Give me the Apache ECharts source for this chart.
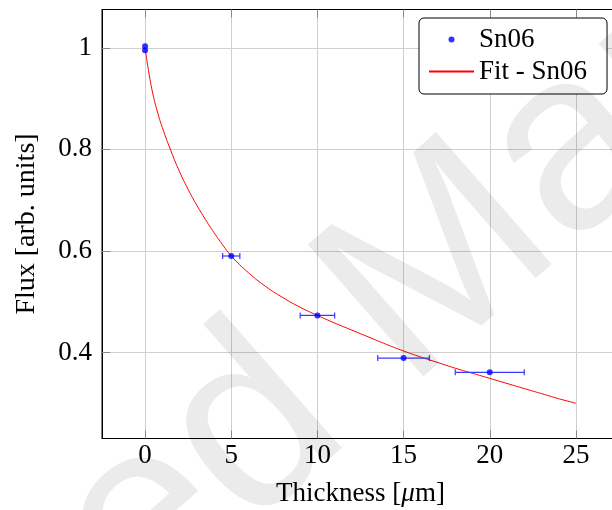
<!DOCTYPE html>
<html>
<head>
<meta charset="utf-8">
<script src="https://cdn.jsdelivr.net/npm/echarts@6/dist/echarts.min.js"></script>
<style>html,body{margin:0;padding:0;background:#fff}#c{width:612px;height:510px}</style>
</head>
<body>
<div id="c"></div>
<script>
// Measured data (Sn06)
var thickness = [0, 0, 5, 10, 15, 20];
var flux = [1.003, 0.995, 0.590, 0.473, 0.389, 0.361];
var thicknessErr = [0, 0, 0.5, 1.0, 1.5, 2.0];
// Fit curve
var fitX = [0, 0.25, 0.5, 0.75, 1, 1.5, 2, 2.5, 3, 3.5, 4, 4.5, 5, 6, 7, 8, 9, 10, 11, 12, 13, 14, 15, 16, 17, 18, 19, 20, 21, 22, 23, 24, 25];
var fitY = [1.0, 0.945, 0.902, 0.870, 0.843, 0.797, 0.756, 0.721, 0.690, 0.662, 0.636, 0.612, 0.590, 0.557, 0.530, 0.508, 0.489, 0.473, 0.458, 0.444, 0.430, 0.416, 0.403, 0.391, 0.380, 0.369, 0.359, 0.349, 0.339, 0.329, 0.319, 0.309, 0.300];
var xTicks = [0, 5, 10, 15, 20, 25];
var yTicks = [0.4, 0.6, 0.8, 1.0];
var seriesName = 'Sn06';
var fitName = 'Fit - Sn06';
var watermarkText = 'Accepted Manuscript';

var FONT = 'Liberation Serif';
var FS = 27;
var pts = thickness.map(function (x, i) { return [x, flux[i]]; });
var errData = thickness.map(function (x, i) { return [x, flux[i], thicknessErr[i]]; });
var fitData = fitX.map(function (x, i) { return [x, fitY[i]]; });

var chart = echarts.init(document.getElementById('c'));
chart.setOption({
  animation: false,
  backgroundColor: '#fff',
  grid: { left: 102, top: 9.5, width: 517, height: 429, containLabel: false, outerBoundsMode: 'none',
    show: true, borderColor: '#000', borderWidth: 1, backgroundColor: 'transparent' },
  legend: {
    left: 419, top: 18, orient: 'vertical',
    backgroundColor: '#fff', borderColor: '#000', borderWidth: 1, borderRadius: 5,
    padding: [8, 20, 9, 9], itemGap: 5, itemWidth: 45, itemHeight: 6,
    textStyle: { fontFamily: FONT, fontSize: FS, color: '#000', lineHeight: 27 },
    data: [{ name: seriesName }, { name: fitName, itemStyle: { opacity: 0 } }]
  },
  xAxis: [{
    type: 'value', min: -2.5, max: 27.5, position: 'bottom',
    name: 'Thickness [{i|μ}m]', nameLocation: 'middle', nameGap: 42,
    nameTextStyle: { fontFamily: FONT, fontSize: FS, color: '#000', rich: { i: { fontFamily: FONT, fontStyle: 'italic', fontSize: FS } } },
    axisLine: { show: true, onZero: false, lineStyle: { color: '#000', width: 1 } },
    axisTick: { show: true, inside: true, length: 8, customValues: xTicks, lineStyle: { color: '#888' } },
    axisLabel: { customValues: xTicks, margin: 4, fontFamily: FONT, fontSize: FS, color: '#000' },
    splitLine: { show: true, lineStyle: { color: '#cfcfcf', width: 1 } }
  }, {
    type: 'value', min: -2.5, max: 27.5, position: 'top',
    axisLine: { show: true, onZero: false, lineStyle: { color: '#000', width: 1 } },
    axisTick: { show: true, inside: true, length: 8, customValues: xTicks, lineStyle: { color: '#888' } },
    axisLabel: { show: false },
    splitLine: { show: false }
  }],
  yAxis: {
    type: 'value', min: 0.2306, max: 1.0754,
    name: 'Flux [arb. units]', nameLocation: 'middle', nameGap: 61,
    nameTextStyle: { fontFamily: FONT, fontSize: 28, color: '#000' },
    axisLine: { show: true, onZero: false, lineStyle: { color: '#000', width: 1 } },
    axisTick: { show: true, inside: true, length: 8, customValues: yTicks, lineStyle: { color: '#888' } },
    axisLabel: { customValues: yTicks, margin: 10, fontFamily: FONT, fontSize: FS, color: '#000',
      formatter: function (v) { return Math.abs(v - 1) < 1e-9 ? '1' : v.toFixed(1); } },
    splitLine: { show: true, lineStyle: { color: '#cfcfcf', width: 1 } }
  },
  graphic: [{
    type: 'text', z: 100, silent: true,
    x: 404, y: 300, rotation: 0.72,
    style: { text: watermarkText, fontFamily: 'Liberation Sans', fontWeight: 'normal', fontSize: 255,
      fill: 'rgba(0,0,0,0.08)', align: 'center', verticalAlign: 'middle' }
  }],
  series: [{
    name: fitName, type: 'line', data: fitData, xAxisIndex: 0, smooth: true, symbol: 'none',
    lineStyle: { color: '#ff0000', width: 1 }, itemStyle: { color: '#ff0000' }, z: 3
  }, {
    name: seriesName + '_err', type: 'custom', data: errData, xAxisIndex: 0, z: 4,
    renderItem: function (params, api) {
      var x = api.value(0), y = api.value(1), e = api.value(2);
      if (!e) return null;
      var a = api.coord([x - e, y]), b = api.coord([x + e, y]);
      var s = { stroke: '#3a3aff', lineWidth: 1.2 };
      return { type: 'group', children: [
        { type: 'line', shape: { x1: a[0], y1: a[1], x2: b[0], y2: b[1] }, style: s },
        { type: 'line', shape: { x1: a[0], y1: a[1] - 3, x2: a[0], y2: a[1] + 3 }, style: s },
        { type: 'line', shape: { x1: b[0], y1: b[1] - 3, x2: b[0], y2: b[1] + 3 }, style: s }
      ] };
    }
  }, {
    name: seriesName, type: 'scatter', data: pts, xAxisIndex: 0, symbol: 'circle', symbolSize: 6,
    itemStyle: { color: '#0000ff' }, z: 5
  }]
});
</script>
</body>
</html>
